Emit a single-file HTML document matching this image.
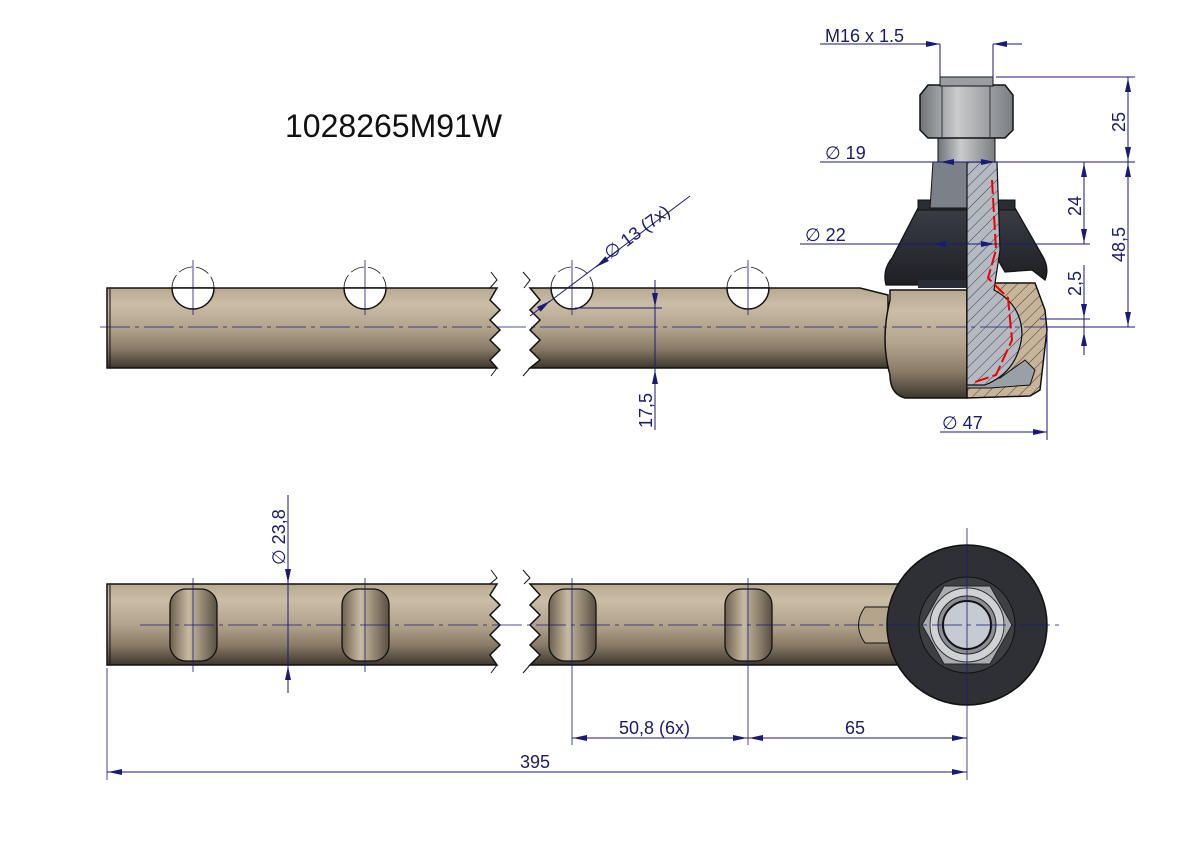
<!DOCTYPE html>
<html><head><meta charset="utf-8"><style>
html,body{margin:0;padding:0;background:#fff;}
svg{display:block;}
text{font-family:"Liberation Sans",sans-serif;fill:#1a1a6e;}
</style></head><body>
<svg width="1191" height="842" viewBox="0 0 1191 842" xmlns="http://www.w3.org/2000/svg">
<defs>
<linearGradient id="rod" x1="0" y1="0" x2="0" y2="1">
<stop offset="0" stop-color="#b8a890"/><stop offset="0.2" stop-color="#cbbda6"/>
<stop offset="0.5" stop-color="#b2a48c"/><stop offset="0.75" stop-color="#8a7c68"/>
<stop offset="1" stop-color="#3e362d"/></linearGradient>
<linearGradient id="slot" x1="0" y1="0" x2="1" y2="0">
<stop offset="0" stop-color="#6d604f"/><stop offset="0.4" stop-color="#c8baa2"/><stop offset="1" stop-color="#5a4f42"/></linearGradient>
<linearGradient id="boot" x1="0" y1="0" x2="0" y2="1">
<stop offset="0" stop-color="#3a3d44"/><stop offset="1" stop-color="#1e2026"/></linearGradient>
<linearGradient id="nut" x1="0" y1="0" x2="1" y2="0">
<stop offset="0" stop-color="#6f7378"/><stop offset="0.4" stop-color="#c9cbcd"/><stop offset="1" stop-color="#7a7d82"/></linearGradient>
<pattern id="hatch" width="8" height="8" patternUnits="userSpaceOnUse" patternTransform="rotate(45)">
<rect width="8" height="8" fill="#b4b9c2"/><line x1="0" y1="0" x2="0" y2="8" stroke="#3c3f48" stroke-width="1"/></pattern>
<pattern id="hatch2" width="8" height="8" patternUnits="userSpaceOnUse" patternTransform="rotate(45)">
<rect width="8" height="8" fill="#c8b49a"/><line x1="0" y1="0" x2="0" y2="8" stroke="#4a3c2e" stroke-width="1"/></pattern>
<marker id="ar" markerWidth="14" markerHeight="6" refX="14" refY="3" orient="auto" markerUnits="userSpaceOnUse">
<path d="M0,0 L14,3 L0,6 Z" fill="#1a1a7a"/></marker>
</defs>

<text x="285" y="137" font-size="32" style="fill:#111">1028265M91W</text>

<!-- TOP VIEW rod -->
<path d="M107,288 L497,288 L490,300 L500,310 L490,320 L500,330 L490,340 L500,350 L490,360 L497,368 L107,368 Z" fill="url(#rod)" stroke="#111" stroke-width="1.5"/>
<line x1="110" y1="289" x2="110" y2="367" stroke="#111"/>
<path d="M530,288 L860,288 L888,295 L888,368 L530,368 L540,360 L530,350 L540,340 L530,330 L540,320 L530,310 L540,300 Z" fill="url(#rod)" stroke="#111" stroke-width="1.5"/>
<path d="M491,272 L497,280 L490,288 M491,376 L497,368 M523,272 L530,280 L524,288 M523,376 L530,368" fill="none" stroke="#111"/>
<!-- holes -->
<g fill="#fff" stroke="#111" stroke-width="1.5">
<path d="M172,288 A21,21 0 0 0 214,288 Z"/><path d="M344,288 A21,21 0 0 0 386,288 Z"/>
<path d="M551,288 A21,21 0 0 0 593,288 Z"/><path d="M727,288 A21,21 0 0 0 769,288 Z"/>
</g>
<g fill="none" stroke="#111" stroke-width="0.8" stroke-dasharray="14,4">
<path d="M172,288 A21,21 0 0 1 214,288"/><path d="M344,288 A21,21 0 0 1 386,288"/>
<path d="M551,288 A21,21 0 0 1 593,288"/><path d="M727,288 A21,21 0 0 1 769,288"/>
</g>
<g stroke="#1a1a7a" stroke-width="0.8">
<line x1="193" y1="260" x2="193" y2="315"/><line x1="365" y1="260" x2="365" y2="315"/>
<line x1="572" y1="260" x2="572" y2="315"/><line x1="748" y1="260" x2="748" y2="315"/>
</g>

<!-- head housing -->
<path d="M890,290 L967,290 L967,398 L905,398 Q890,394 890,375 Q880,340 890,300 Z" fill="url(#rod)" stroke="#111" stroke-width="1.5"/>
<path d="M967,283 L1035,283 L1045,310 L1047,330 L1040,390 L1030,396 L967,398 Z" fill="url(#hatch2)" stroke="#111" stroke-width="1.5"/>
<path d="M967,388 L990,388 L1030,385 L1035,370 L1025,360 L1000,378 L967,380 Z" fill="#9aa0a8" stroke="#111"/>
<!-- boot -->
<path d="M918,208 L967,208 L967,285 L886,285 Q882,270 892,258 Z" fill="url(#boot)" stroke="#111" stroke-width="1.2"/>
<path d="M998,208 L1015,208 L1042,255 Q1050,268 1045,280 L1032,270 L1005,272 L998,260 Z" fill="url(#boot)" stroke="#111" stroke-width="1.2"/>
<rect x="918" y="200" width="97" height="10" fill="#2a2d33" stroke="#111"/>
<rect x="918" y="280" width="49" height="8" fill="#2a2d33"/>
<!-- stud -->
<path d="M933,162 L967,162 L967,208 L930,208 Z" fill="#7c8088" stroke="#111"/>
<path d="M967,162 L997,162 L1000,250 L994,290 Q1022,305 1022,335 Q1018,372 985,385 L967,385 Z" fill="url(#hatch)" stroke="#111" stroke-width="1.2"/>
<rect x="938" y="137" width="57" height="25" fill="url(#nut)" stroke="#111"/>
<path d="M920,95 L928,85 L1005,85 L1013,95 L1013,130 L1005,138 L928,138 L920,130 Z" fill="url(#nut)" stroke="#111" stroke-width="1.5"/>
<line x1="942" y1="85" x2="942" y2="138" stroke="#333"/><line x1="990" y1="85" x2="990" y2="138" stroke="#333"/>
<rect x="940" y="77" width="53" height="9" fill="#9a9ea3" stroke="#111"/>
<path d="M992,180 L996,250 L988,278 L1008,298 L1012,340 L996,375 L975,382" fill="none" stroke="#e00" stroke-width="2" stroke-dasharray="14,4"/>
<line x1="100" y1="327" x2="1090" y2="327" stroke="#1a1a7a" stroke-width="0.8" stroke-dasharray="30,5,4,5"/>

<!-- top dims -->
<g stroke="#1a1a7a" stroke-width="1" fill="none">
<line x1="820" y1="44" x2="940" y2="44"/><line x1="940" y1="44" x2="940" y2="80"/><line x1="993" y1="44" x2="993" y2="80"/>
<line x1="910" y1="44" x2="940" y2="44" marker-end="url(#ar)"/><line x1="1022" y1="44" x2="993" y2="44" marker-end="url(#ar)"/>
<line x1="996" y1="77" x2="1135" y2="77"/>
<line x1="820" y1="162" x2="1135" y2="162"/>
<line x1="960" y1="162" x2="940" y2="162" marker-end="url(#ar)"/>
<line x1="975" y1="162" x2="995" y2="162" marker-end="url(#ar)"/>
<line x1="1128" y1="100" x2="1128" y2="78" marker-end="url(#ar)"/><line x1="1128" y1="140" x2="1128" y2="161" marker-end="url(#ar)"/>
<line x1="1128" y1="77" x2="1128" y2="327"/>
<line x1="1128" y1="185" x2="1128" y2="163" marker-end="url(#ar)"/><line x1="1128" y1="300" x2="1128" y2="326" marker-end="url(#ar)"/>
<line x1="1045" y1="327" x2="1135" y2="327"/>
<line x1="1084" y1="162" x2="1084" y2="244"/>
<line x1="1084" y1="185" x2="1084" y2="163" marker-end="url(#ar)"/><line x1="1084" y1="225" x2="1084" y2="243" marker-end="url(#ar)"/>
<line x1="800" y1="244" x2="1090" y2="244"/>
<line x1="960" y1="244" x2="932" y2="244" marker-end="url(#ar)"/>
<line x1="975" y1="244" x2="995" y2="244" marker-end="url(#ar)"/>
<line x1="1084" y1="265" x2="1084" y2="355"/>
<line x1="1084" y1="300" x2="1084" y2="318" marker-end="url(#ar)"/><line x1="1084" y1="350" x2="1084" y2="332" marker-end="url(#ar)"/>
<line x1="1040" y1="319" x2="1090" y2="319"/>
<line x1="1047" y1="330" x2="1047" y2="440"/>
<line x1="940" y1="432" x2="1047" y2="432"/>
<line x1="1020" y1="432" x2="1047" y2="432" marker-end="url(#ar)"/>
<line x1="655" y1="280" x2="655" y2="430"/>
<line x1="575" y1="308" x2="662" y2="308"/>
<line x1="655" y1="290" x2="655" y2="307" marker-end="url(#ar)"/>
<line x1="655" y1="395" x2="655" y2="370" marker-end="url(#ar)"/>
<line x1="690" y1="196" x2="541" y2="308"/>
<line x1="620" y1="249" x2="596" y2="267" marker-end="url(#ar)"/>
<line x1="530" y1="316" x2="550" y2="301" marker-end="url(#ar)"/>
</g>
<text x="825" y="42" font-size="18">M16 x 1.5</text>
<text x="825" y="159" font-size="18">∅ 19</text>
<text x="805" y="241" font-size="18">∅ 22</text>
<text x="942" y="429" font-size="18">∅ 47</text>
<text font-size="18" transform="translate(1125,132) rotate(-90)">25</text>
<text font-size="18" transform="translate(1125,262) rotate(-90)">48,5</text>
<text font-size="18" transform="translate(1081,216) rotate(-90)">24</text>
<text font-size="18" transform="translate(1081,296) rotate(-90)">2,5</text>
<text font-size="18" transform="translate(652,428) rotate(-90)">17,5</text>
<text font-size="18" transform="translate(610,260) rotate(-37)">∅ 13  (7x)</text>

<!-- BOTTOM VIEW -->
<path d="M107,584 L497,584 L490,595 L500,605 L490,615 L500,625 L490,635 L500,645 L490,655 L497,665 L107,665 Z" fill="url(#rod)" stroke="#111" stroke-width="1.5"/>
<line x1="110" y1="585" x2="110" y2="664" stroke="#111"/>
<path d="M530,584 L900,584 L900,665 L530,665 L540,655 L530,645 L540,635 L530,625 L540,615 L530,605 L540,595 Z" fill="url(#rod)" stroke="#111" stroke-width="1.5"/>
<path d="M491,570 L497,578 L490,584 M491,673 L497,665 M523,570 L530,578 L524,584 M523,673 L530,665" fill="none" stroke="#111"/>
<g fill="url(#slot)" stroke="#111" stroke-width="1.3">
<rect x="170" y="589" width="47" height="72" rx="16"/><rect x="342" y="589" width="47" height="72" rx="16"/>
<rect x="549" y="589" width="47" height="72" rx="16"/><rect x="725" y="589" width="47" height="72" rx="16"/>
</g>
<path d="M865,607 L890,607 L890,643 L865,643 Q852,625 865,607 Z" fill="#b4a48c" stroke="#111"/>
<circle cx="967" cy="625" r="80" fill="#2e3036" stroke="#111" stroke-width="1.5"/>
<circle cx="967" cy="625" r="48" fill="#3c3f44" stroke="#111"/>
<polygon points="922,625 944,586 990,586 1012,625 990,664 944,664" fill="#a9acb0" stroke="#222"/>
<circle cx="967" cy="625" r="37" fill="#cfd1d4" stroke="#333"/>
<circle cx="967" cy="625" r="29" fill="#8b8e93" stroke="#222"/>
<circle cx="967" cy="625" r="24" fill="#c5cad3" stroke="#111" stroke-width="2"/>
<g stroke="#1a1a7a" stroke-width="0.8" fill="none">
<line x1="140" y1="625" x2="1062" y2="625" stroke-dasharray="30,5,4,5"/>
<line x1="193" y1="578" x2="193" y2="672"/><line x1="365" y1="578" x2="365" y2="672"/>
<line x1="572" y1="578" x2="572" y2="745"/><line x1="748" y1="578" x2="748" y2="745"/>
<line x1="967" y1="528" x2="967" y2="780"/>
<line x1="107" y1="668" x2="107" y2="780"/>
</g>
<g stroke="#1a1a7a" stroke-width="1" fill="none">
<line x1="288" y1="495" x2="288" y2="693"/>
<line x1="288" y1="560" x2="288" y2="583" marker-end="url(#ar)"/>
<line x1="288" y1="690" x2="288" y2="666" marker-end="url(#ar)"/>
<line x1="572" y1="738" x2="967" y2="738"/>
<line x1="600" y1="738" x2="573" y2="738" marker-end="url(#ar)"/>
<line x1="720" y1="738" x2="747" y2="738" marker-end="url(#ar)"/>
<line x1="775" y1="738" x2="749" y2="738" marker-end="url(#ar)"/>
<line x1="940" y1="738" x2="966" y2="738" marker-end="url(#ar)"/>
<line x1="107" y1="772" x2="967" y2="772"/>
<line x1="135" y1="772" x2="108" y2="772" marker-end="url(#ar)"/>
<line x1="940" y1="772" x2="966" y2="772" marker-end="url(#ar)"/>
</g>
<text font-size="18" transform="translate(285,565) rotate(-90)">∅ 23,8</text>
<text x="619" y="734" font-size="18">50,8  (6x)</text>
<text x="845" y="734" font-size="18">65</text>
<text x="520" y="768" font-size="18">395</text>
</svg>
</body></html>
